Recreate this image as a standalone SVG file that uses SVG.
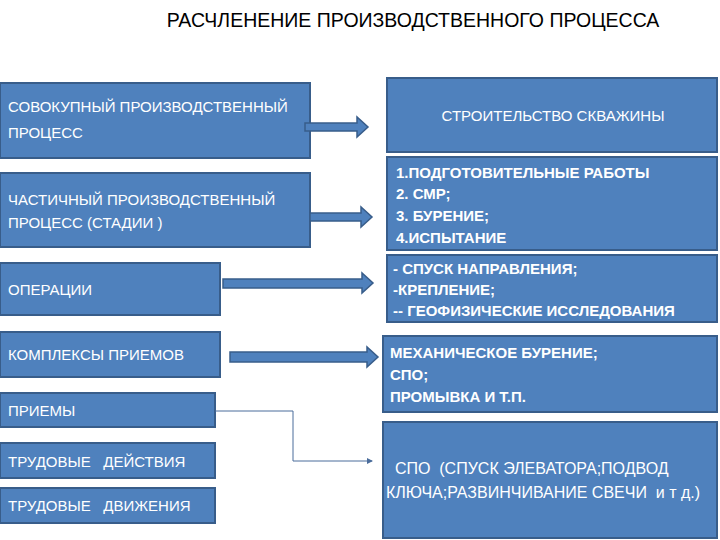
<svg xmlns="http://www.w3.org/2000/svg" width="720" height="540" viewBox="0 0 720 540">
<defs>
<style>
.box{fill:#4F81BD;stroke:#385D8A;stroke-width:2}
.t{font-family:"Liberation Sans",Arial,sans-serif;font-size:15px;fill:#ffffff}
.b{font-weight:bold}
.e{font-size:16px}
.title{font-family:"Liberation Sans",Arial,sans-serif;font-size:19.5px;fill:#000000}
.arr{fill:#4F81BD;stroke:#385D8A;stroke-width:1.5}
.ln{fill:none;stroke:#4A6C9B;stroke-width:1}
</style>
<marker id="ah" markerWidth="6" markerHeight="6" refX="5" refY="3" orient="auto" markerUnits="userSpaceOnUse">
<path d="M0,0 L6,3 L0,6 Z" fill="#4A6C9B"/>
</marker>
</defs>
<rect width="720" height="540" fill="#ffffff"/>
<text class="title" x="413" y="27" text-anchor="middle">РАСЧЛЕНЕНИЕ ПРОИЗВОДСТВЕННОГО ПРОЦЕССА</text>

<g id="n1"><rect class="box" x="0" y="83" width="310" height="75"/>
<text class="t" x="8" y="112">СОВОКУПНЫЙ ПРОИЗВОДСТВЕННЫЙ</text>
<text class="t" x="8" y="138">ПРОЦЕСС</text></g>
<g id="n2"><rect class="box" x="0" y="173" width="310" height="74"/>
<text class="t" x="8" y="205">ЧАСТИЧНЫЙ ПРОИЗВОДСТВЕННЫЙ</text>
<text class="t" x="8" y="228">ПРОЦЕСС (СТАДИИ )</text></g>
<g id="n3"><rect class="box" x="0" y="263" width="220" height="52"/>
<text class="t" x="8" y="295">ОПЕРАЦИИ</text></g>
<g id="n4"><rect class="box" x="0" y="332" width="220" height="45"/>
<text class="t" x="8" y="360">КОМПЛЕКСЫ ПРИЕМОВ</text></g>
<g id="n5"><rect class="box" x="0" y="393" width="215" height="34"/>
<text class="t" x="8" y="416">ПРИЕМЫ</text></g>
<g id="n6"><rect class="box" x="0" y="443" width="215" height="35"/>
<text class="t" x="8" y="467" xml:space="preserve">ТРУДОВЫЕ   ДЕЙСТВИЯ</text></g>
<g id="n7"><rect class="box" x="0" y="488" width="215" height="35"/>
<text class="t" x="8" y="511" xml:space="preserve">ТРУДОВЫЕ   ДВИЖЕНИЯ</text></g>

<g id="r1"><rect class="box" x="387" y="78" width="330" height="74"/>
<text class="t" x="553" y="121" text-anchor="middle">СТРОИТЕЛЬСТВО СКВАЖИНЫ</text></g>
<g id="r2"><rect class="box" x="387" y="157" width="330" height="93"/>
<text class="t b" x="396" y="178">1.ПОДГОТОВИТЕЛЬНЫЕ РАБОТЫ</text>
<text class="t b" x="396" y="199">2. СМР;</text>
<text class="t b" x="396" y="221">3. БУРЕНИЕ;</text>
<text class="t b" x="396" y="243">4.ИСПЫТАНИЕ</text></g>
<g id="r3"><rect class="box" x="387" y="255" width="330" height="67"/>
<text class="t b" x="393" y="274">- СПУСК НАПРАВЛЕНИЯ;</text>
<text class="t b" x="393" y="295">-КРЕПЛЕНИЕ;</text>
<text class="t b" x="393" y="316">-- ГЕОФИЗИЧЕСКИЕ ИССЛЕДОВАНИЯ</text></g>
<g id="r4"><rect class="box" x="383" y="336" width="334" height="76"/>
<text class="t b" x="390" y="358">МЕХАНИЧЕСКОЕ БУРЕНИЕ;</text>
<text class="t b" x="390" y="380">СПО;</text>
<text class="t b" x="390" y="402">ПРОМЫВКА И Т.П.</text></g>
<g id="r5"><rect class="box" x="383" y="422" width="334" height="116"/>
<text class="t e" x="386" y="474" xml:space="preserve">  СПО  (СПУСК ЭЛЕВАТОРА;ПОДВОД</text>
<text class="t e" x="386" y="498" xml:space="preserve">КЛЮЧА;РАЗВИНЧИВАНИЕ СВЕЧИ  и т д.)</text></g>

<g id="connectors">
<path class="arr" d="M305,123 H357 V117 L368,127 L357,137 V131 H305 Z"/>
<path class="arr" d="M310,213 H361 V207 L372,217 L361,227 V221 H310 Z"/>
<path class="arr" d="M223,279 H362 V273 L373,283 L362,293 V288 H223 Z"/>
<path class="arr" d="M230,352 H367 V347 L378,357 L367,367 V362 H230 Z"/>
<polyline class="ln" points="215,411 293,411 293,461 372,461" marker-end="url(#ah)"/>
</g>
</svg>
